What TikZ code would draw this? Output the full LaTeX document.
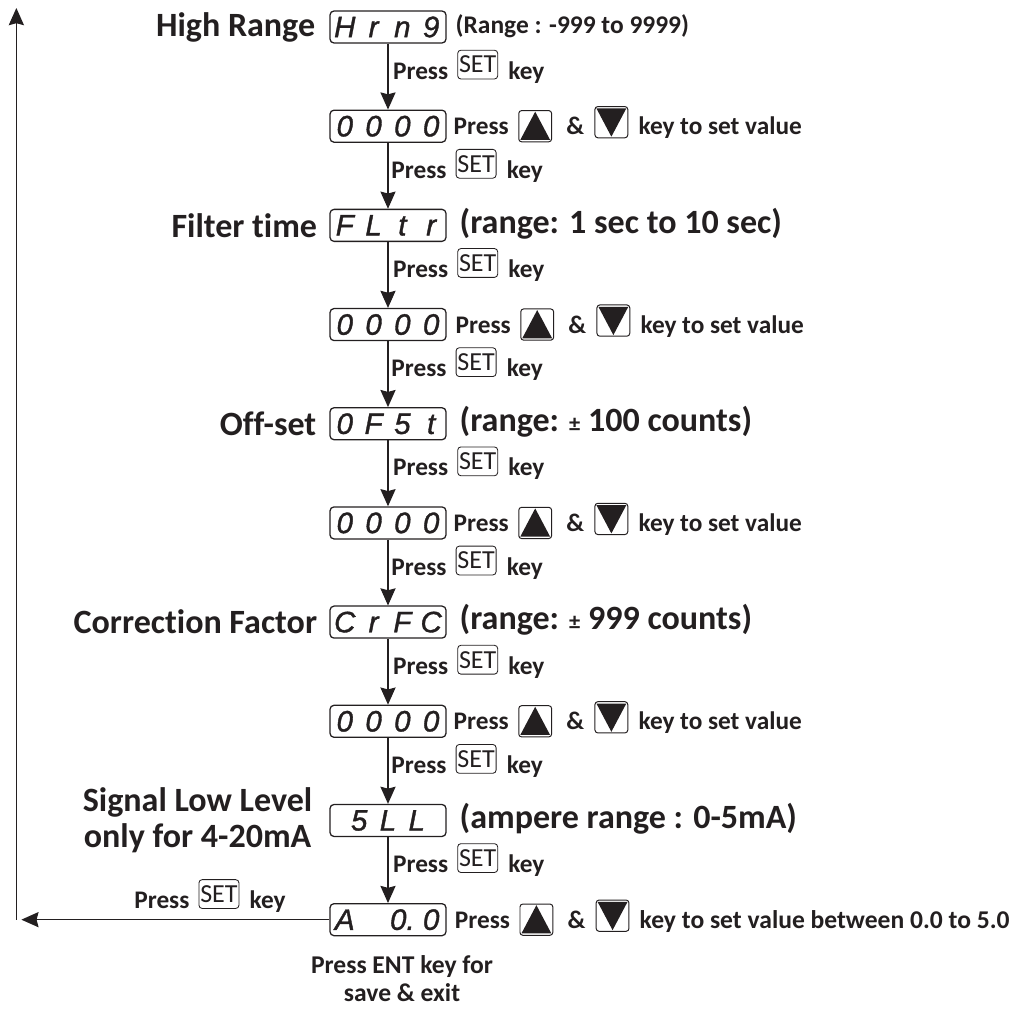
\documentclass[tikz,border=0pt]{standalone}
\usepackage{fontspec}
\setmainfont{Carlito}[Ligatures=NoCommon]
\newfontfamily\segfont{Liberation Sans}
\usepackage{xcolor}
\usetikzlibrary{positioning,arrows.meta,calc}
\definecolor{inkblack}{RGB}{35,31,32}
\newcommand{\segcell}[1]{\makebox[0.72cm]{#1}}
\newcommand{\segtext}[4]{\segcell{#1}\segcell{#2}\segcell{#3}\segcell{#4}}
\tikzset{
  display/.style={draw=inkblack, line width=0.9pt, rounded corners=0.1cm, minimum width=2.9cm, minimum height=0.8cm, inner sep=0pt, text=inkblack, font=\segfont\itshape\addfontfeature{FakeBold=1.2}\fontsize{21}{21}\selectfont},
  title/.style={inner sep=0pt, text=inkblack, align=center, font=\bfseries\fontsize{24.2}{25.5}\selectfont},
  note/.style={inner sep=0pt, text=inkblack, font=\bfseries\fontsize{18.1}{20}\selectfont},
  lbl/.style={inner sep=0pt, text=inkblack, text height=0.525cm, text depth=0.1cm, font=\bfseries\fontsize{18}{20}\selectfont},
  entnote/.style={inner sep=0pt, text=inkblack, align=center, font=\bfseries\fontsize{18.2}{20}\selectfont},
  setkey/.style={draw=inkblack, line width=0.6pt, rounded corners=0.08cm, minimum width=1cm, minimum height=0.72cm, inner sep=0pt, text=inkblack, text height=0.42cm, text depth=0cm, font=\fontsize{18.5}{18.5}\selectfont},
  updown/.style={draw=inkblack, line width=0.7pt, rounded corners=0.07cm, minimum width=0.82cm, minimum height=0.78cm, inner sep=0pt},
  arrow/.style={-{Stealth[length=0.43cm, width=0.38cm, inset=0.05cm]}, line width=0.8pt, inkblack}
}
\begin{document}
\begin{tikzpicture}[node distance=1.648cm]
  \useasboundingbox (0,0) rectangle (25.475,-25.225);
  % display column
  \node[display] (hrng) at (9.7,-0.675) {\segtext{H}{r}{n}{9}};
  \node[display, below=of hrng] (val1) {\segtext{0}{0}{0}{0}};
  \node[display, below=of val1] (fltr) {\segtext{F}{L}{t}{r}};
  \node[display, below=of fltr] (val2) {\segtext{0}{0}{0}{0}};
  \node[display, below=of val2] (ofst) {\segtext{0}{F}{5}{t}};
  \node[display, below=of ofst] (val3) {\segtext{0}{0}{0}{0}};
  \node[display, below=of val3] (crfc) {\segtext{C}{r}{F}{C}};
  \node[display, below=of crfc] (val4) {\segtext{0}{0}{0}{0}};
  \node[display, below=of val4] (sll) {\segcell{5}\segcell{L}\segcell{L}};
  \node[display, below=of sll] (aval) {\segtext{A}{}{0.}{0}};

  % titles and ranges
  \node[title, left=0.35cm of hrng] (thrng) {High Range};
  \node[title, left=0.3cm of fltr] (tfltr) {Filter time};
  \node[title, left=0.32cm of ofst] (tofst) {Off-set};
  \node[title, left=0.3cm of crfc] (tcrfc) {Correction Factor};
  \node[title, left=0.42cm of sll] (tsll) {Signal Low Level\\only for 4-20mA};
  \node[note, right=0.22cm of hrng.east, yshift=0.03cm] (nhrng) {(Range : -999 to 9999)};
  \node[title, right=0.32cm of fltr, yshift=0.05cm] (nfltr) {(range: 1 sec to 10 sec)};
  \node[title, right=0.32cm of ofst, yshift=0.05cm] (nofst) {(range: {\fontsize{16}{16}\selectfont ±} 100 counts)};
  \node[title, right=0.32cm of crfc, yshift=0.05cm] (ncrfc) {(range: {\fontsize{16}{16}\selectfont ±} 999 counts)};
  \node[title, right=0.32cm of sll, yshift=0.05cm] (nsll) {(ampere range : 0-5mA)};

  % down the column
  \foreach \from/\to/\dx/\n in {hrng/val1/0.12/1, val1/fltr/0.08/2, fltr/val2/0.12/3, val2/ofst/0.08/4, ofst/val3/0.12/5, val3/crfc/0.08/6, crfc/val4/0.12/7, val4/sll/0.08/8, sll/aval/0.12/9} {
    \draw[arrow] (\from) -- (\to);
    \node[lbl, anchor=west] (press\n) at ($(\from)!0.5!(\to)+(\dx,0.15)$) {Press};
    \node[setkey, right=0.22cm of press\n, yshift=0.15cm] (set\n) {SET};
    \node[lbl, right=0.25cm of set\n, yshift=-0.15cm] (key\n) {key};
  }

  % value rows
  \foreach \row/\gap/\n in {val1/0.17/1, val2/0.22/2, val3/0.17/3, val4/0.17/4, aval/0.2/5} {
    \node[lbl, right=\gap cm of \row] (rpress\n) {Press};
    \node[updown, right=0.23cm of rpress\n] (up\n) {};
    \fill[inkblack] ($(up\n.south west)+(0.05,0.06)$) -- ($(up\n.north)+(0,-0.04)$) -- ($(up\n.south east)+(-0.05,0.06)$) -- cycle;
    \node[lbl, right=0.35cm of up\n] (amp\n) {\&};
    \node[updown, right=0.25cm of amp\n, yshift=0.1cm] (down\n) {};
    \fill[inkblack] ($(down\n.north west)+(0.05,-0.06)$) -- ($(down\n.south)+(0,0.04)$) -- ($(down\n.north east)+(-0.05,-0.06)$) -- cycle;
  }
  \foreach \n in {1,2,3,4}
    \node[lbl, right=0.25cm of down\n, yshift=-0.1cm] (rkey\n) {key to set value};
  \node[lbl, right=0.25cm of down5, yshift=-0.1cm, font=\bfseries\fontsize{18.2}{20}\selectfont] (rkey5) {key to set value between 0.0 to 5.0};

  % way back to the top
  \coordinate[left=7.825cm of aval.west] (back) ;
  \coordinate (top) at (back |- 0,-0.2);
  \draw[arrow] (aval.west) -- ($(back)+(0.125,0)$);
  \draw[arrow] (back) -- (top);
  \node[setkey, above left=0.27cm and 2.25cm of aval.west] (setback) {SET};
  \node[lbl, left=0.22cm of setback, yshift=-0.15cm] (pressback) {Press};
  \node[lbl, right=0.25cm of setback, yshift=-0.15cm] (keyback) {key};
  \node[entnote, below=0.47cm of aval, xshift=0.35cm] (ent) {Press ENT key for\\save \& exit};
\end{tikzpicture}
\end{document}
